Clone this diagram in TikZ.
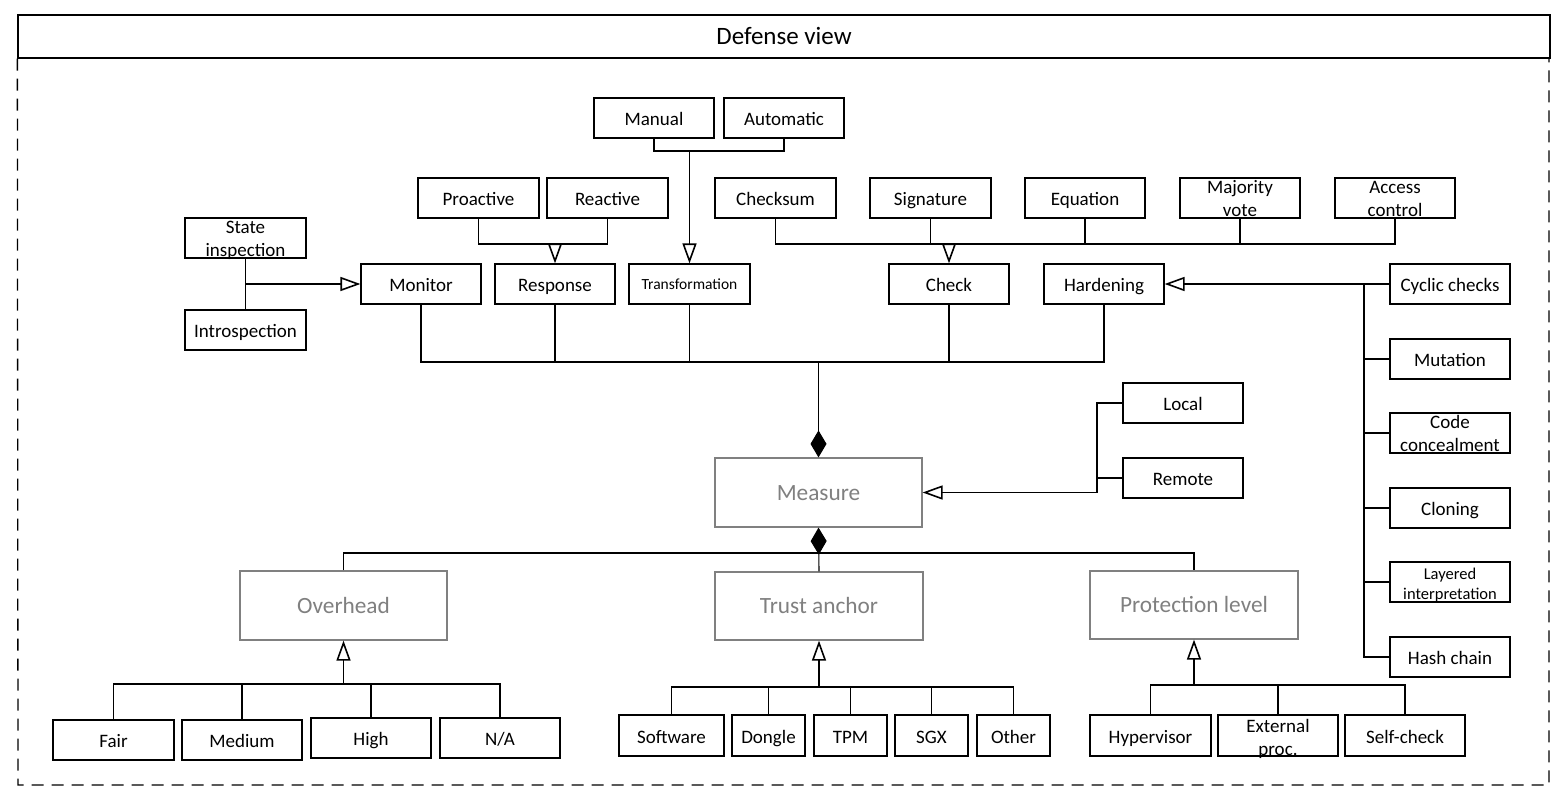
\documentclass[tikz,border=0pt]{standalone}
\usepackage{fontspec}
\setmainfont{Carlito}
\usetikzlibrary{arrows.meta}
\definecolor{gtxt}{HTML}{808080}
\newcommand\twoline[2]{\vtop{\halign{\hfil##\hfil\cr #1\cr #2\cr}}}
\begin{document}
\begin{tikzpicture}[x=1pt,y=-1pt,
  bx/.style={draw, line width=1.2pt, minimum width=120pt, minimum height=40pt, inner sep=0pt,
    font=\fontsize{19}{23}\selectfont, text height=15pt, text depth=0pt},
  two/.style={text height=15pt, text depth=25pt},
  sm/.style={font=\fontsize{15.5}{19}\selectfont, text height=10.6pt},
  gbx/.style={draw=gtxt, text=gtxt, line width=1.2pt, minimum width=207pt, minimum height=69pt,
    inner sep=0pt, font=\fontsize{23.3}{28}\selectfont, text height=15pt, text depth=0pt},
  ln/.style={line width=1.1pt},
  gen/.style={ln, -{Triangle[open, length=20pt, width=14pt, line width=1.6pt]}},
  comp/.style={ln, {Diamond[length=27pt, width=16pt]}-}
]
\fill[white] (0,0) rectangle (1566,803);
\useasboundingbox (0,0) rectangle (1566,803);

% frame
\node[draw, line width=1.3pt, minimum width=1532pt, minimum height=43pt, inner sep=0pt,
  font=\fontsize{25}{30}\selectfont, text height=15pt, text depth=0pt] (title) at (784,36.5) {Defense view};
\draw[line width=1.3pt, dash pattern=on 12pt off 8pt] (title.south west) -- (18,785) -- (1549,785) -- (1549,58);

% top row
\node[bx] (man) at (654,118) {Manual};
\node[bx] (aut) at (784,118) {Automatic};
\node[bx, minimum width=121pt] (pro) at (478.5,198) {Proactive};
\node[bx, minimum width=121pt] (rea) at (607.5,198) {Reactive};
\node[bx, minimum width=121pt] (chk) at (775.5,198) {Checksum};
\node[bx, minimum width=121pt] (sig) at (930.5,198) {Signature};
\node[bx] (equ) at (1085,198) {Equation};
\node[bx, two] (maj) at (1240,198) {\twoline{Majority}{vote}};
\node[bx, two] (acc) at (1395,198) {\twoline{Access}{control}};

% left
\node[bx, two, minimum width=121pt] (sta) at (245.5,238) {\twoline{State}{inspection}};
\node[bx, minimum width=121pt] (int) at (245.5,330) {Introspection};

% second row
\node[bx] (mon) at (421,284) {Monitor};
\node[bx] (res) at (555,284) {Response};
\node[bx, sm, minimum width=121pt] (tra) at (689.5,284) {Transformation};
\node[bx] (che) at (949,284) {Check};
\node[bx] (har) at (1104,284) {Hardening};

% right column
\node[bx] (cyc) at (1450,284) {Cyclic checks};
\node[bx] (mut) at (1450,359) {Mutation};
\node[bx, two] (cod) at (1450,433) {\twoline{Code}{concealment}};
\node[bx] (clo) at (1450,508) {Cloning};
\node[bx, font=\fontsize{16.5}{20}\selectfont, text height=17pt, text depth=23pt] (lay) at (1450,582) {\twoline{Layered}{interpretation}};
\node[bx] (has) at (1450,657) {Hash chain};

% local / remote
\node[bx] (loc) at (1183,403) {Local};
\node[bx] (rem) at (1183,478) {Remote};

% gray classes
\node[gbx] (mea) at (818.5,492.5) {Measure};
\node[gbx] (ovh) at (343.5,605.5) {Overhead};
\node[gbx, minimum width=208pt, minimum height=68pt] (tru) at (819,606) {Trust anchor};
\node[gbx, minimum width=208pt, minimum height=68pt] (prl) at (1194,605) {Protection level};

% bottom rows
\node[bx, minimum width=121pt] (fai) at (113.5,740) {Fair};
\node[bx] (med) at (242,740) {Medium};
\node[bx] (hig) at (371,738) {High};
\node[bx] (na) at (500,738) {N/A};

\node[bx, minimum width=105pt, minimum height=41pt] (sof) at (671.5,735.5) {Software};
\node[bx, minimum width=73pt, minimum height=41pt] (don) at (768.5,735.5) {Dongle};
\node[bx, minimum width=73pt, minimum height=41pt] (tpm) at (850.5,735.5) {TPM};
\node[bx, minimum width=73pt, minimum height=41pt] (sgx) at (931.5,735.5) {SGX};
\node[bx, minimum width=73pt, minimum height=41pt] (oth) at (1013.5,735.5) {Other};

\node[bx, minimum width=121pt, minimum height=41pt] (hyp) at (1150.5,735.5) {Hypervisor};
\node[bx, minimum height=41pt, text height=17pt, text depth=24pt] (ext) at (1278,735.5) {\twoline{External}{proc.}};
\node[bx, minimum height=41pt] (sel) at (1405,735.5) {Self-check};

% junction coordinates
\coordinate (mab) at (689.5,151);
\coordinate (prb) at (555,244);
\coordinate (ckb) at (949,244);
\coordinate (sib) at (245.5,284);
\coordinate (mb) at (818.5,362);
\coordinate (hb) at (1364,284);
\coordinate (lrb) at (1097,492.5);
\coordinate (mbb) at (818.5,553);
\coordinate (ob) at (343.5,684);
\coordinate (tb) at (819,687);
\coordinate (pb) at (1194,685);

% Manual / Automatic -> Transformation
\draw[ln] (man.south) |- (mab) -| (aut.south);
\draw[gen] (mab) -- (tra.north);
% Proactive / Reactive -> Response
\draw[ln] (pro.south) |- (prb) -| (rea.south);
\draw[gen] (prb) -- (res.north);
% Check group
\draw[ln] (chk.south) |- (ckb) -| (acc.south);
\draw[ln] (sig.south) -- (sig.south |- ckb);
\draw[ln] (equ.south) -- (equ.south |- ckb);
\draw[ln] (maj.south) -- (maj.south |- ckb);
\draw[gen] (ckb) -- (che.north);
% State inspection / Introspection -> Monitor
\draw[ln] (sta.south) -- (int.north);
\draw[gen] (sib) -- (mon.west);
% second row -> Measure
\draw[ln] (mon.south) |- (mb) -| (har.south);
\draw[ln] (res.south) -- (res.south |- mb);
\draw[ln] (tra.south) -- (tra.south |- mb);
\draw[ln] (che.south) -- (che.south |- mb);
\draw[comp] (mea.north) -- (mb);
% Hardening group
\draw[gen] (cyc.west) -- (har.east);
\draw[ln] (hb) |- (has.west);
\draw[ln] (mut.west) -- (mut.west -| hb);
\draw[ln] (cod.west) -- (cod.west -| hb);
\draw[ln] (clo.west) -- (clo.west -| hb);
\draw[ln] (lay.west) -- (lay.west -| hb);
% Local / Remote -> Measure
\draw[gen] (loc.west) -| (lrb) -- (mea.east);
\draw[ln] (rem.west) -- (rem.west -| lrb);
% Measure -> aspects
\draw[comp] (mea.south) -- (tru.north);
\draw[ln] (ovh.north) |- (mbb) -| (prl.north);
% Overhead
\draw[ln] (fai.north) |- (ob) -| (na.north);
\draw[ln] (med.north) -- (med.north |- ob);
\draw[ln] (hig.north) -- (hig.north |- ob);
\draw[gen] (ob) -- (ovh.south);
% Trust anchor
\draw[ln] (sof.north) |- (tb) -| (oth.north);
\draw[ln] (don.north) -- (don.north |- tb);
\draw[ln] (tpm.north) -- (tpm.north |- tb);
\draw[ln] (sgx.north) -- (sgx.north |- tb);
\draw[gen] (tb) -- (tru.south);
% Protection level
\draw[ln] (hyp.north) |- (pb) -| (sel.north);
\draw[ln] (ext.north) -- (ext.north |- pb);
\draw[gen] (pb) -- (prl.south);
\end{tikzpicture}
\end{document}
